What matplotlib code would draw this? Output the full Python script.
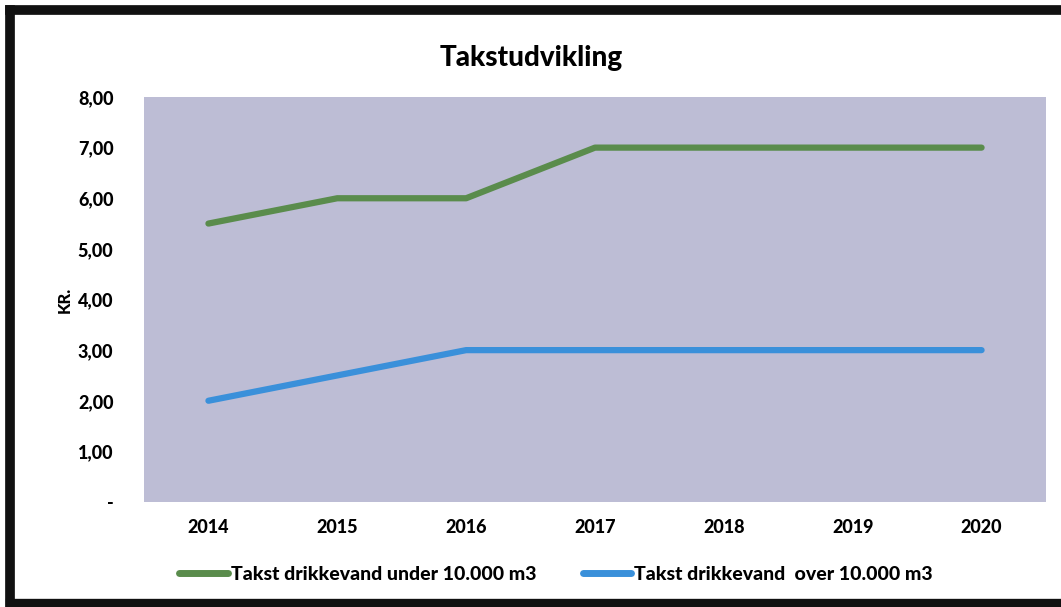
import matplotlib
matplotlib.use("Agg")
import matplotlib.pyplot as plt
from matplotlib.lines import Line2D

years = ["2014", "2015", "2016", "2017", "2018", "2019", "2020"]
under_10000 = [5.5, 6.0, 6.0, 7.0, 7.0, 7.0, 7.0]
over_10000 = [2.0, 2.5, 3.0, 3.0, 3.0, 3.0, 3.0]
series_labels = ["Takst drikkevand under 10.000 m3", "Takst drikkevand  over 10.000 m3"]
y_ticks = [0, 1, 2, 3, 4, 5, 6, 7, 8]
y_tick_labels = ["-", "1,00", "2,00", "3,00", "4,00", "5,00", "6,00", "7,00", "8,00"]

plt.rcParams['font.family'] = ['Lato', 'DejaVu Sans']
W = 'black'

fig = plt.figure(figsize=(10.61, 6.07), dpi=100)
ax = fig.add_axes([144/1061, 105/607, 902/1061, 405/607])
ax.set_facecolor('#BDBDD5')

x = list(range(len(years)))
green = '#5A8C4C'
blue = '#3A90DA'
ax.plot(x, under_10000, color=green, lw=4.5, solid_capstyle='round')
ax.plot(x, over_10000, color=blue, lw=4.5, solid_capstyle='round')

ax.set_xlim(-0.5, len(years) - 0.5)
ax.set_ylim(0, 8)
ax.set_xticks(x)
ax.set_xticklabels(years, fontsize=13, fontweight=W)
ax.set_yticks(y_ticks)
ax.set_yticklabels(y_tick_labels, fontsize=13, fontweight=W)
ax.tick_params(axis='both', length=0)
ax.tick_params(axis='y', pad=22)
ax.tick_params(axis='x', pad=12)
for s in ax.spines.values():
    s.set_visible(False)

ax.set_ylabel("KR.", fontsize=12, fontweight=W, labelpad=4)

fig.text(531/1061, 1 - 58/607, "Takstudvikling", ha='center', va='center',
         fontsize=20, fontweight=W)

handles = [Line2D([0], [0], color=green, lw=5, solid_capstyle='round'),
           Line2D([0], [0], color=blue, lw=5, solid_capstyle='round')]
fig.legend(handles, series_labels, loc='center', bbox_to_anchor=(556/1061, 1 - 574/607),
           ncol=2, frameon=False, handlelength=2.5, handletextpad=0.15,
           columnspacing=2.4, prop={'weight': W, 'size': 14})

# black frame (top, left, bottom)
fig.add_artist(Line2D([10/1061, 1.0], [1 - 10/607, 1 - 10/607], color='#111111', lw=7,
                      transform=fig.transFigure))
fig.add_artist(Line2D([10/1061, 10/1061], [1 - 10/607, 1 - 603/607], color='#111111', lw=7,
                      transform=fig.transFigure))
fig.add_artist(Line2D([10/1061, 1.0], [1 - 603/607, 1 - 603/607], color='#111111', lw=6,
                      transform=fig.transFigure))

fig.savefig("out.png", dpi=100)
